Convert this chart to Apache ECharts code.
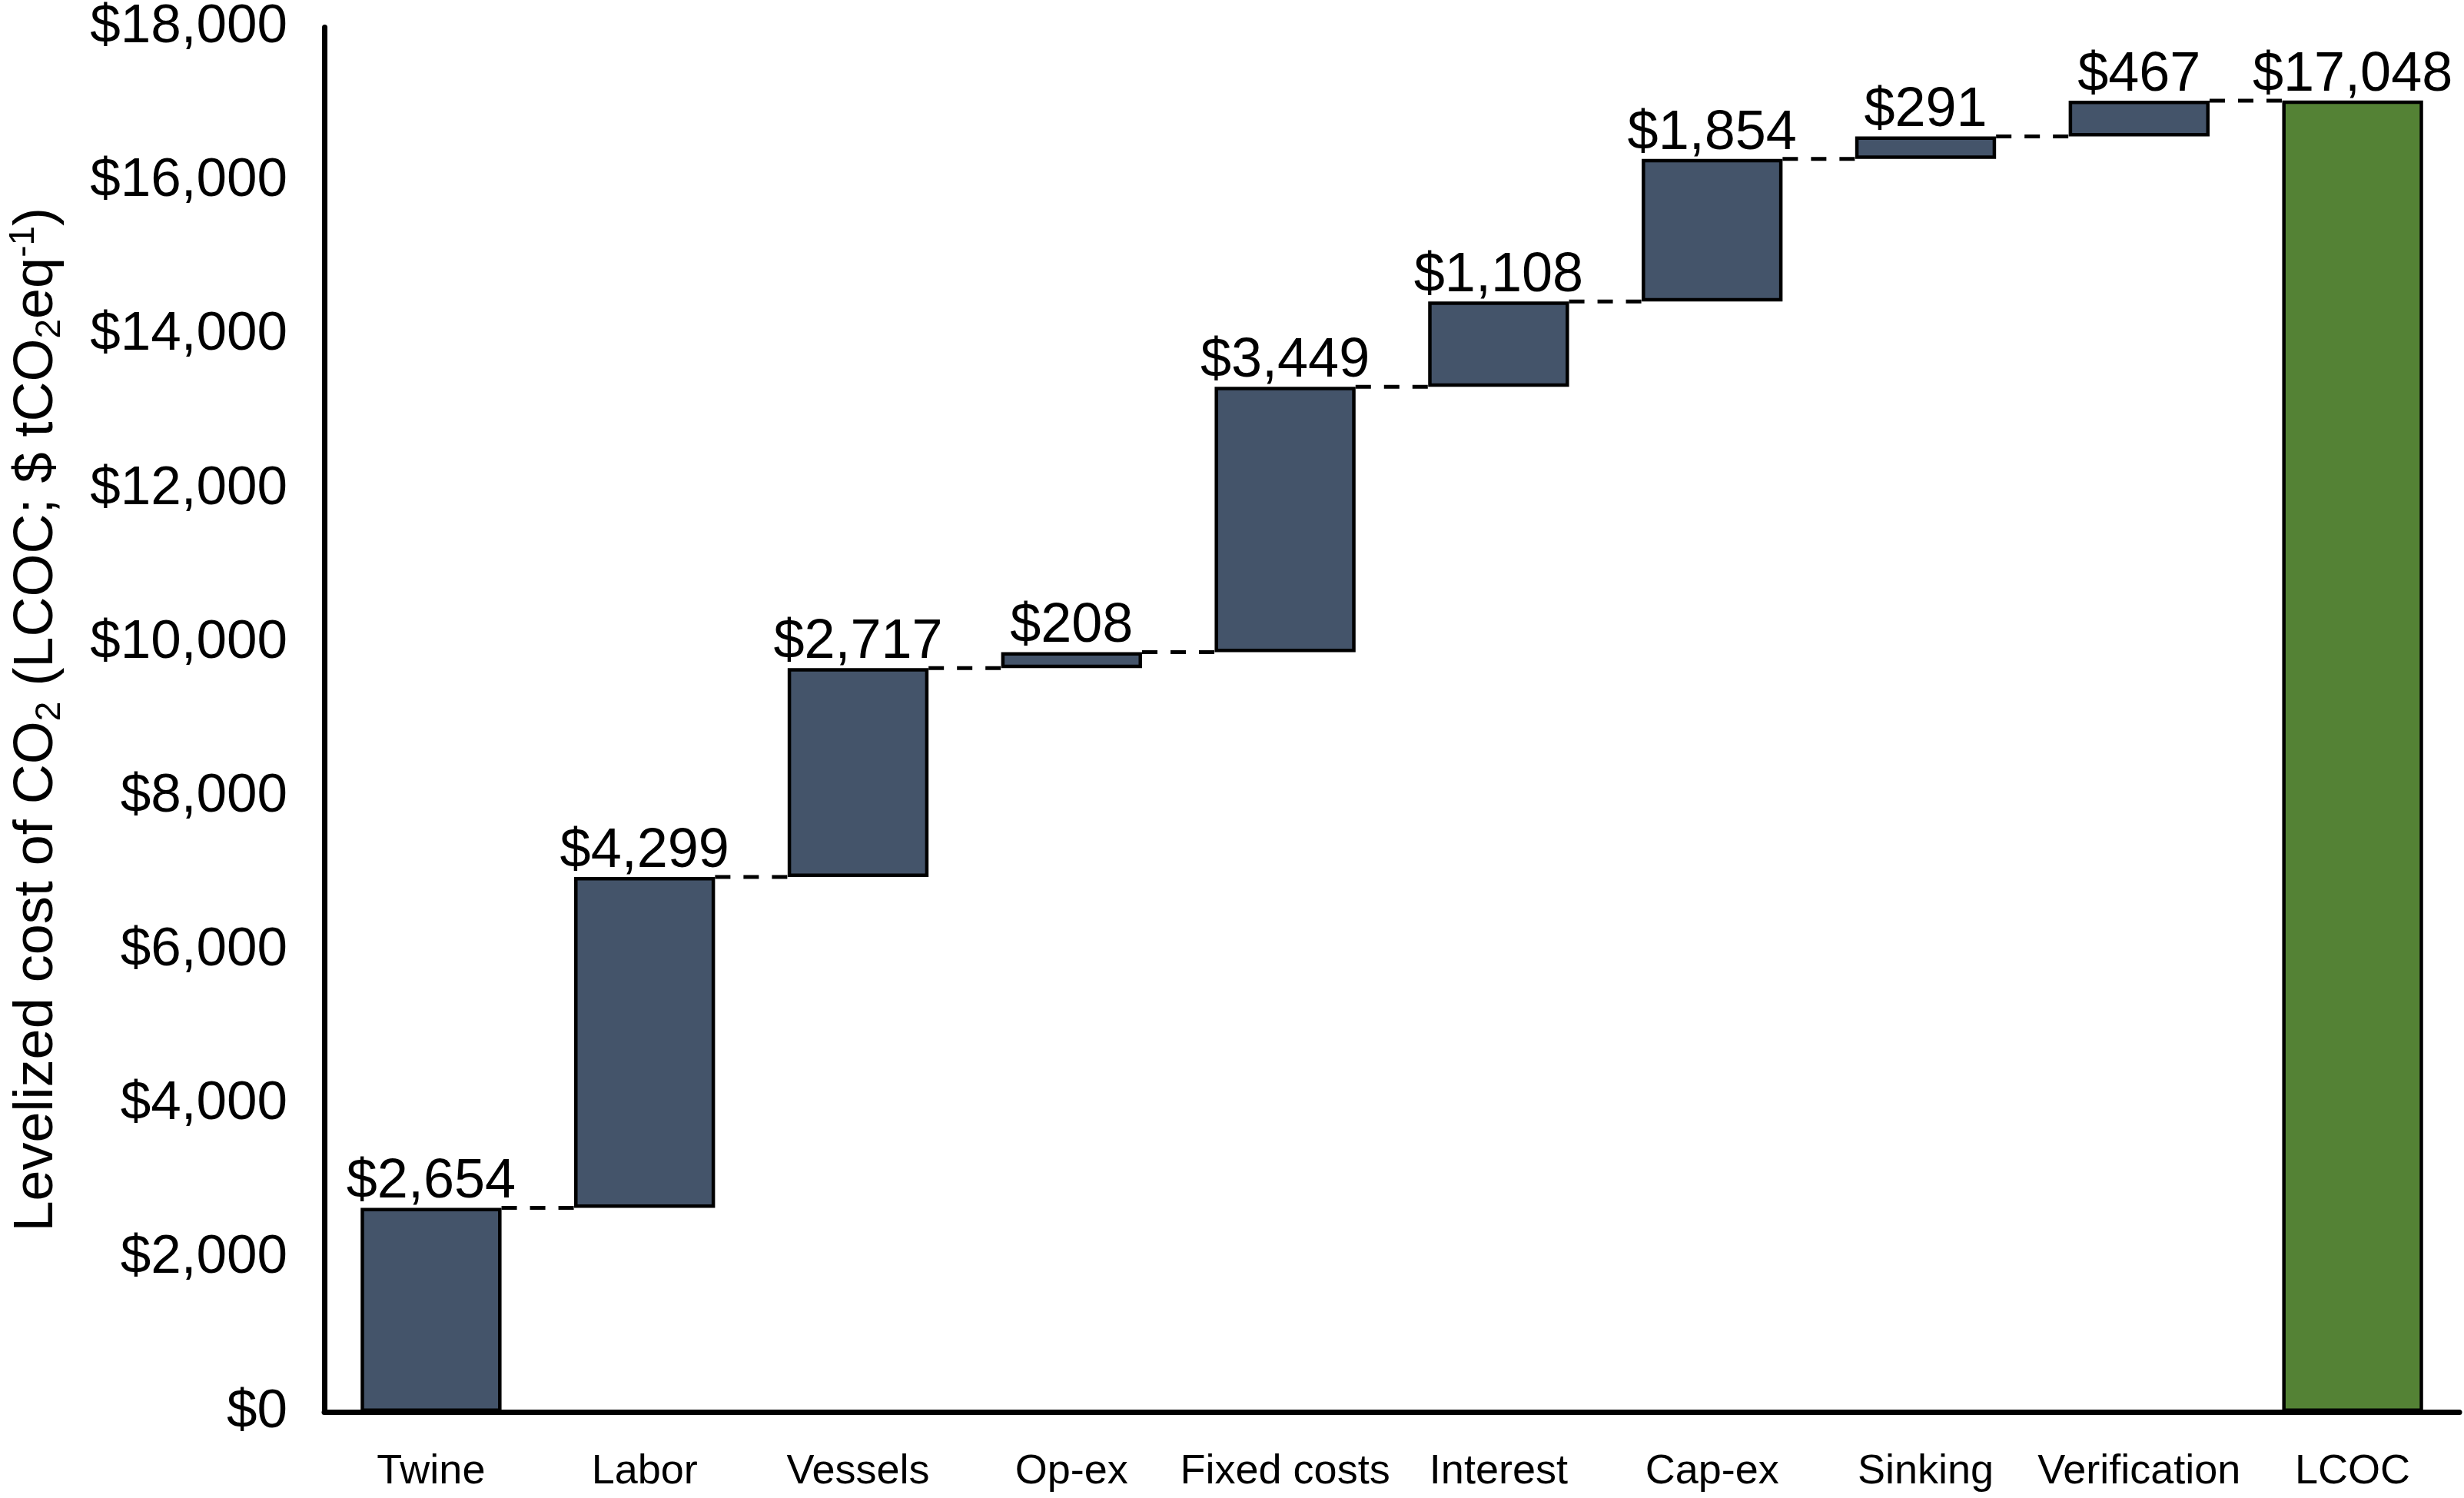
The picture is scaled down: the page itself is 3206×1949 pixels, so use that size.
<!DOCTYPE html>
<html>
<head>
<meta charset="utf-8">
<script src="https://cdn.jsdelivr.net/npm/echarts@6/dist/echarts.min.js"></script>
<style>
html,body{margin:0;padding:0;background:#fff;}
#chart{width:3206px;height:1949px;}
</style>
</head>
<body>
<div id="chart"></div>
<script>
const categories = ['Twine','Labor','Vessels','Op-ex','Fixed costs','Interest','Cap-ex','Sinking','Verification','LCOC'];
const costValues = [2654, 4299, 2717, 208, 3449, 1108, 1854, 291, 467, 17048];
const totalIndex = 9;
const yTicks = {min: 0, max: 18000, interval: 2000};

const barColor = '#44546A';
const totalColor = '#548235';
const FONT = "'Liberation Sans', Arial, Helvetica, sans-serif";

// bases for the floating bars (running sum), total starts at zero
const bases = [];
const levels = [];
let run = 0;
costValues.forEach((v, i) => {
  if (i === totalIndex) { bases.push(0); levels.push(v); }
  else { bases.push(run); run += v; levels.push(run); }
});

const fmt = v => '$' + Math.round(v).toLocaleString('en-US');
const BAR_FRAC = 0.66;

const connectorData = [];
for (let i = 0; i < categories.length - 1; i++) connectorData.push([i, levels[i]]);

const chart = echarts.init(document.getElementById('chart'));
chart.setOption({
  animation: false,
  backgroundColor: '#fff',
  grid: {left: 409, right: 6, top: 28, bottom: 112, containLabel: false},
  xAxis: {
    type: 'category',
    data: categories,
    axisLine: {show: true, lineStyle: {color: '#000', width: 7}},
    axisTick: {show: false},
    axisLabel: {color: '#000', fontFamily: FONT, fontSize: 54, margin: 51, interval: 0}
  },
  yAxis: {
    type: 'value',
    min: yTicks.min, max: yTicks.max, interval: yTicks.interval,
    axisLine: {show: true, lineStyle: {color: '#000', width: 7}},
    axisTick: {show: false},
    splitLine: {show: false},
    axisLabel: {color: '#000', fontFamily: FONT, fontSize: 71, margin: 48, padding: [16, 0, 0, 0], formatter: v => fmt(v)},
    name: 'Levelized cost of CO{sub|2} (LCOC; $ tCO{sub|2}eq{sup|-1})',
    nameLocation: 'middle',
    nameGap: 334,
    nameTextStyle: {
      color: '#000', fontFamily: FONT, fontSize: 72, lineHeight: 80,
      rich: {
        sub: {fontFamily: FONT, fontSize: 46, color: '#000', verticalAlign: 'bottom', lineHeight: 80},
        sup: {fontFamily: FONT, fontSize: 46, color: '#000', verticalAlign: 'top', lineHeight: 80}
      }
    }
  },
  series: [
    {
      type: 'custom',
      name: 'connectors',
      z: 1,
      data: connectorData,
      renderItem: function (params, api) {
        const i = api.value(0);
        const lvl = api.value(1);
        const p = api.coord([i, lvl]);
        const band = api.size([1, 0])[0];
        const half = band * BAR_FRAC / 2;
        return {
          type: 'line',
          shape: {x1: p[0] + half, y1: p[1], x2: p[0] + band - half, y2: p[1]},
          style: {stroke: '#000', lineWidth: 5, lineDash: [20, 17]}
        };
      }
    },
    {
      type: 'bar',
      stack: 'wf',
      barWidth: (BAR_FRAC * 100) + '%',
      itemStyle: {color: 'transparent', borderWidth: 0},
      emphasis: {disabled: true},
      data: bases,
      z: 2
    },
    {
      type: 'bar',
      stack: 'wf',
      barWidth: (BAR_FRAC * 100) + '%',
      z: 3,
      data: costValues.map((v, i) => ({
        value: v,
        itemStyle: {color: i === totalIndex ? totalColor : barColor, borderColor: '#000', borderWidth: 4.5}
      })),
      label: {
        show: true,
        position: 'top',
        distance: -3,
        color: '#000',
        fontFamily: FONT,
        fontSize: 72,
        formatter: p => fmt(p.value)
      }
    }
  ]
});
</script>
</body>
</html>
